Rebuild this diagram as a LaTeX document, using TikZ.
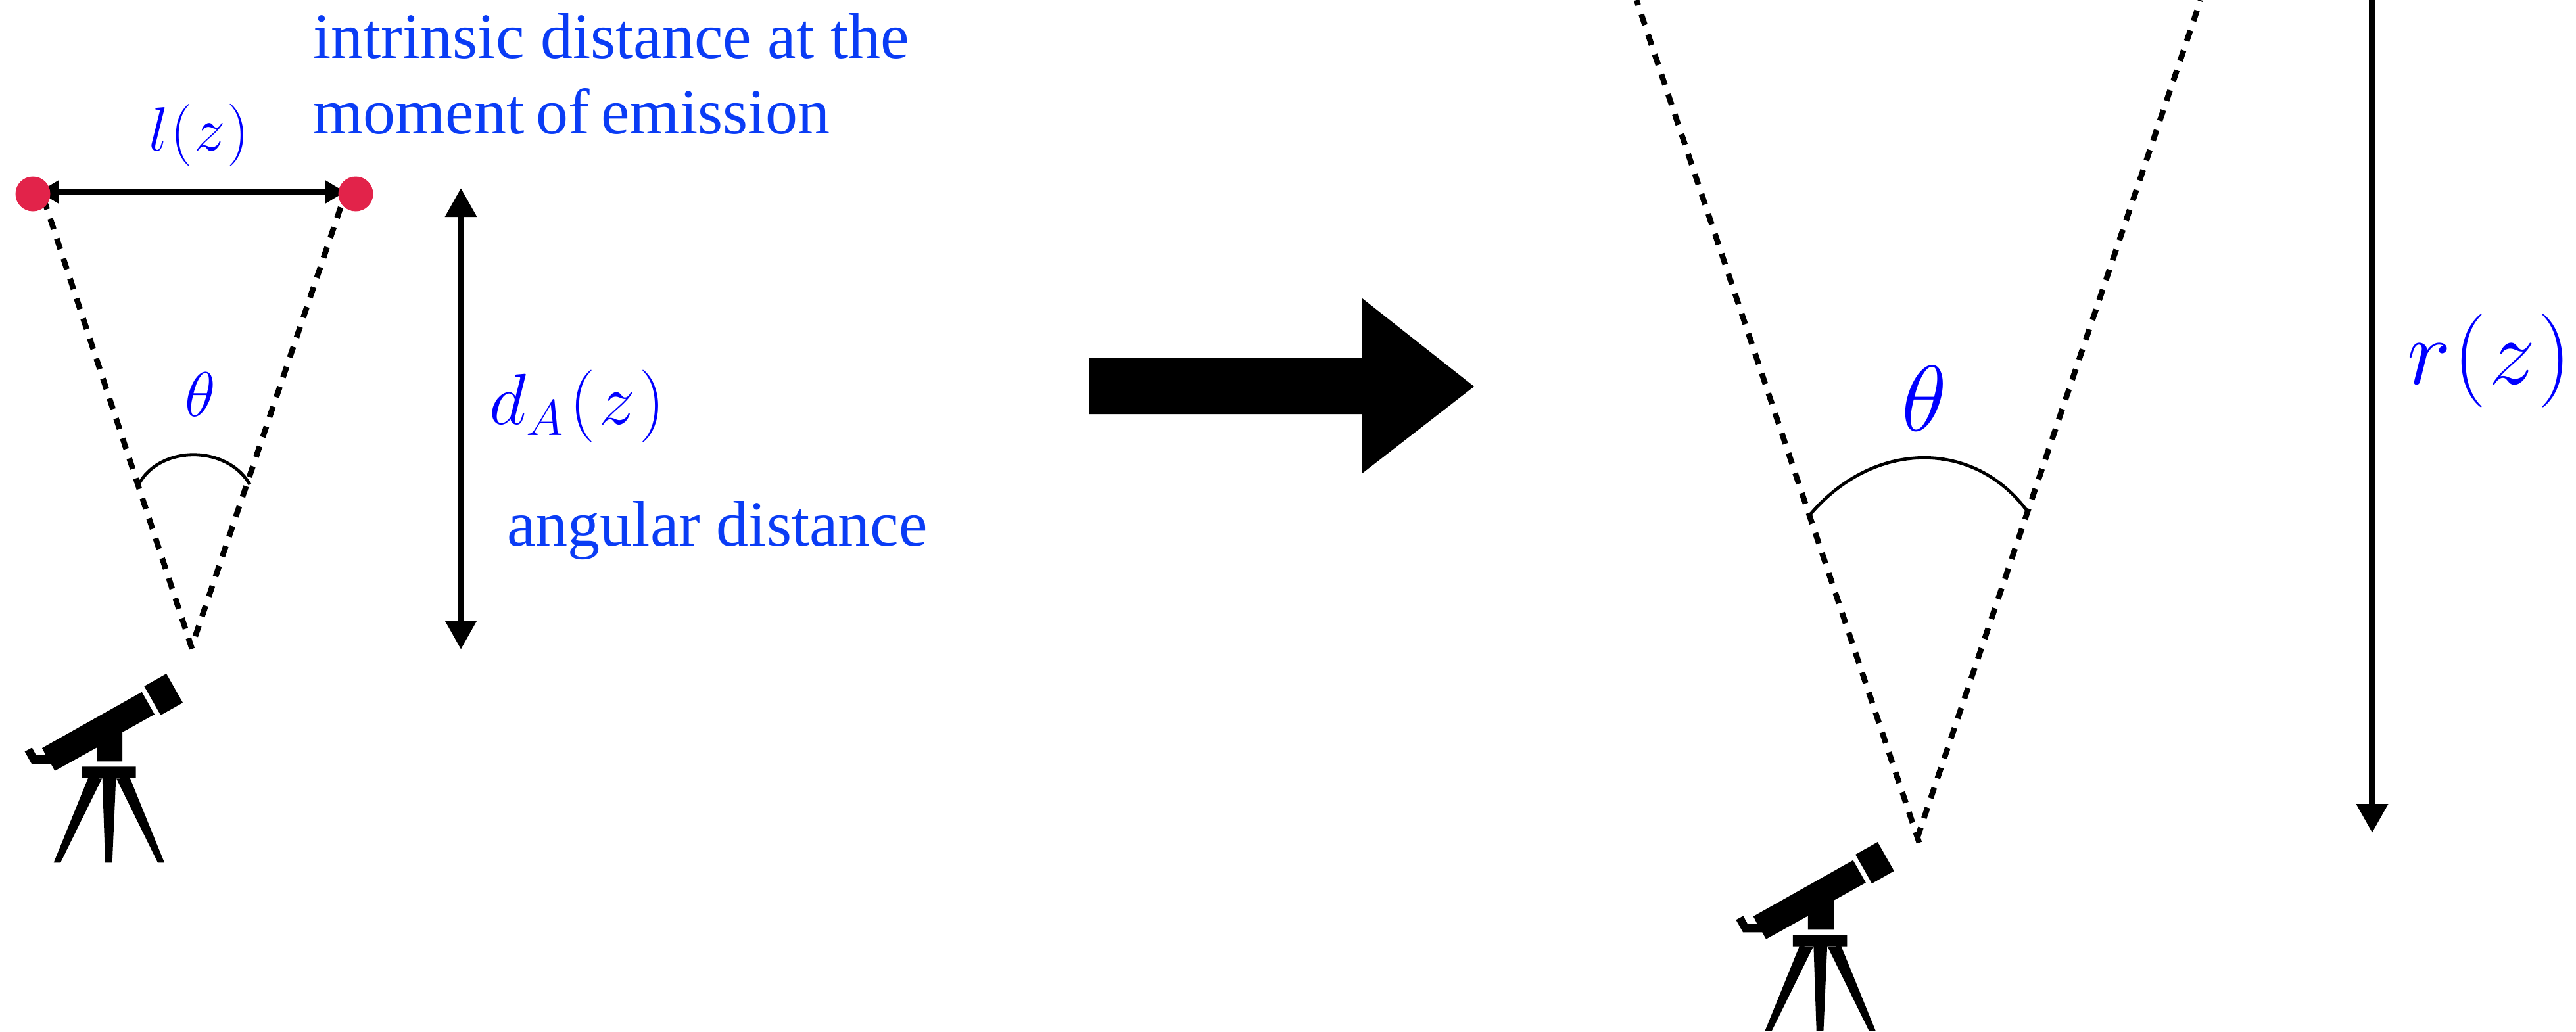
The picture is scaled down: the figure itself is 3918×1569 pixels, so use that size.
\RequirePackage{fix-cm}
\documentclass[tikz,border=0pt]{standalone}
\usepackage{fontspec}
\setmainfont{Liberation Serif}
\usetikzlibrary{arrows.meta}
\definecolor{txtblue}{HTML}{0A3CF5}
\definecolor{mathblue}{HTML}{0000FF}
\definecolor{dotred}{HTML}{E2234A}
\newcommand{\pxfont}[1]{\fontsize{#1}{#1}\selectfont}
\tikzset{
  x=0.5pt,y=-0.5pt,
  sight/.style={line width=4.3pt,dash pattern=on 8.5pt off 7.5pt},
  anglearc/.style={line width=2.4pt},
  dimarrow/.style={line width=5pt,{Triangle[length=22pt,width=23pt]}-{Triangle[length=22pt,width=23pt]}},
  downarrow/.style={line width=5pt,-{Triangle[length=22pt,width=23pt]}},
  sizearrow/.style={line width=3.8pt,{Triangle[length=15pt,width=16.5pt]}-{Triangle[length=15pt,width=16.5pt]}},
  caption/.style={inner sep=0pt,anchor=base west,text=txtblue,font=\pxfont{49}},
  mathlabel/.style={inner sep=0pt,text=mathblue},
  dot/.style={circle,fill=dotred,inner sep=0pt,minimum size=26.5pt},
  scopeic/.pic={
    \fill[black,x=0.1667pt,y=-0.1667pt]
      (192,714)--(647,458)--(705,560)--(558,642)--(558,775)--(441,775)--(441,712)--(250,818)--(233,787)--(145,787)--(113,730)--(146,712)--(165,747)--(209,747)--cycle
      (658,432)--(759,375)--(834,507)--(733,564)--cycle
      (372,799)--(620,799)--(620,851)--(372,851)--cycle
      (402,851)--(245,1237)--(276,1237)--(465,853)--cycle
      (467,851)--(529,851)--(512,1237)--(480,1237)--cycle
      (531,853)--(720,1237)--(750,1237)--(593,851)--cycle;
  }
}
\begin{document}
\begin{tikzpicture}
\useasboundingbox (0,0) rectangle (3918,1569);
% left wedge
\coordinate (apexL) at (292,987);
\coordinate (apexLb) at (297,968);
\coordinate (topLa) at (64,295);
\coordinate (topLb) at (525,295);
\coordinate (dimL) at (59,292);
\coordinate (dimR) at (525,292);
\draw[sight] (apexL) -- (topLa);
\draw[sight] (apexLb) -- (topLb);
\draw[sizearrow] (dimL) -- (dimR);
\node[dot] (dotA) at (50,295) {};
\node[dot] (dotB) at (541,295) {};
\coordinate (dTop) at (701,286);
\coordinate (dBot) at (701,988);
\draw[dimarrow] (dTop) -- (dBot);
\draw[anglearc] (212,735) .. controls (245,677) and (345,677) .. (380,737);
\path (0,900) pic {scopeic};
\node[caption] (cap1) at (476,88) {intrinsic distance at the};
\node[caption] (cap2) at (476,203) {\spaceskip=8.75pt moment of emission};
\node[caption] (cap3) at (771,830) {angular distance};
\node[mathlabel,font=\pxfont{47.5}] (lz) at (303,206) {$l\mkern0.5mu(\mkern0.5mu z\mkern0.5mu)$};
\node[mathlabel,font=\pxfont{48}] (th1) at (305,600) {$\theta$};
\node[mathlabel,font=\pxfont{55}] (da) at (878,618) {$d_A\mkern1.5mu(\mkern1mu z\mkern1mu)$};
% big arrow
\fill[black] (1657,545)--(2072,545)--(2072,454)--(2242,588)--(2072,720)--(2072,630)--(1657,630)--cycle;
% right wedge
\coordinate (apexR) at (2919,1282);
\coordinate (apexRb) at (2916,1275);
\coordinate (tL) at (2489,0);
\coordinate (tR) at (3347,0);
\draw[sight] (apexR) -- (tL);
\draw[sight] (apexRb) -- (tR);
\draw[anglearc] (2753,783) .. controls (2850,668) and (3005,668) .. (3085,780);
\coordinate (rTop) at (3608,0);
\coordinate (rBot) at (3608,1267);
\draw[downarrow] (rTop) -- (rBot);
\path (2602.7,1156) pic {scopeic};
\node[mathlabel,font=\pxfont{71}] (th2) at (2927,606) {$\theta$};
\node[mathlabel,font=\pxfont{71}] (rz) at (3786,549) {$r\mkern0.5mu(\mkern0.5mu z\mkern0.5mu)$};
\end{tikzpicture}
\end{document}
